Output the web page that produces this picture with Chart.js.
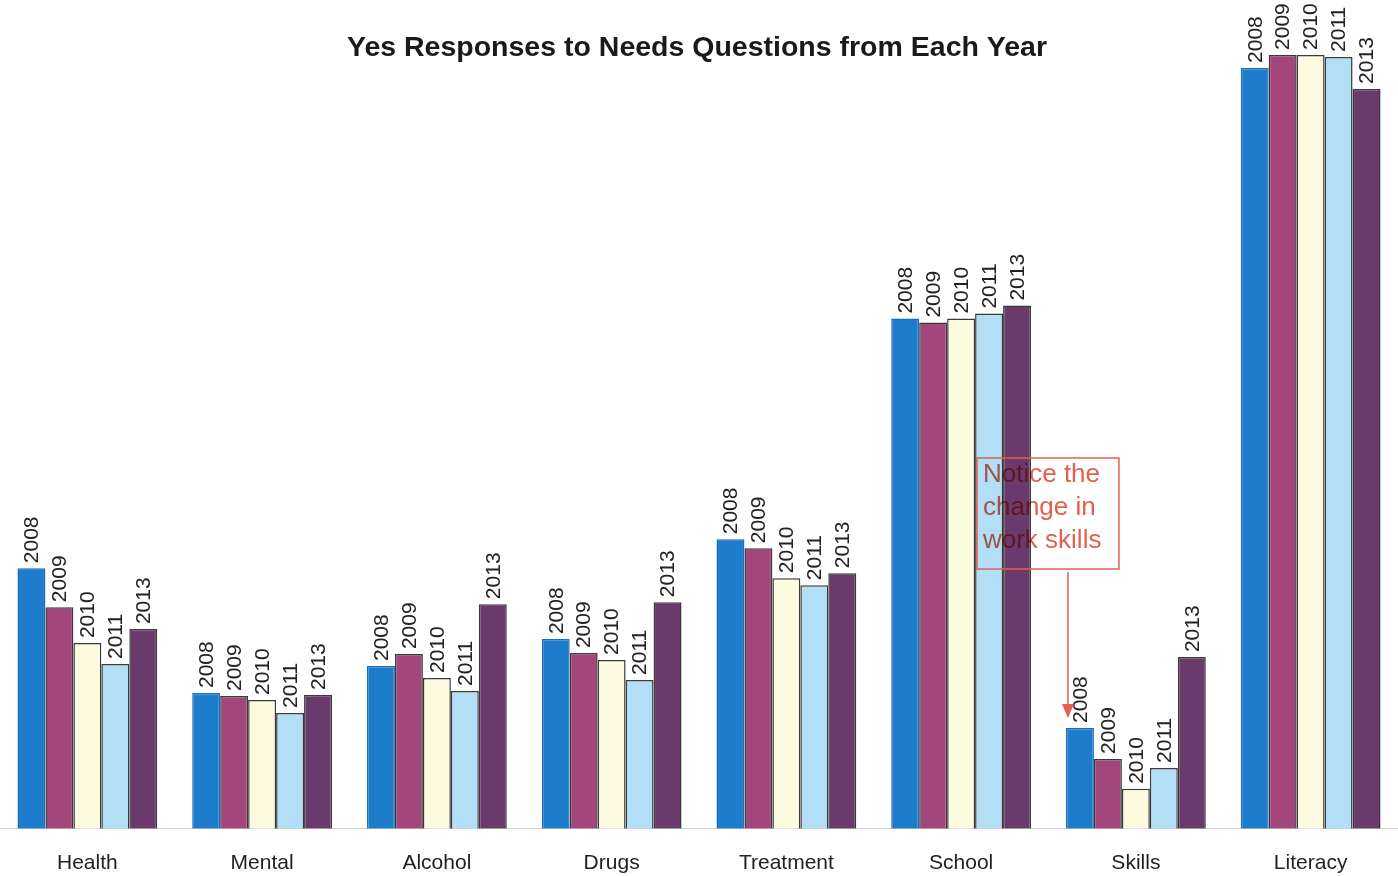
<!DOCTYPE html>
<html>
<head>
<meta charset="utf-8">
<script src="https://cdn.jsdelivr.net/npm/chart.js@4.4.0/dist/chart.umd.min.js"></script>
<style>
  html, body { margin: 0; padding: 0; background: #fff; }
  #wrap { width: 1398px; height: 876px; position: relative; }
</style>
</head>
<body>
<div id="wrap"><canvas id="myChart"></canvas></div>
<script>
const categories = ['Health', 'Mental', 'Alcohol', 'Drugs', 'Treatment', 'School', 'Skills', 'Literacy'];
const years = ['2008', '2009', '2010', '2011', '2013'];
const v2008 = [261, 136, 163, 190, 290, 511, 101, 762];
const v2009 = [222, 133, 175, 176, 281, 507, 70, 775];
const v2010 = [186, 129, 151, 169, 251, 511, 40, 775];
const v2011 = [165, 116, 138, 149, 244, 516, 61, 773];
const v2013 = [200, 134, 225, 227, 256, 524, 172, 741];
const yMax = 800;

const fills = ['#1d7ccc', '#a3467b', '#fcfbe0', '#b2def6', '#6a3a6d'];
const edges = ['#1a6fb8', '#3a3a3a', '#3a3a3a', '#3a3a3a', '#3a3a3a'];

const titleText = 'Yes Responses to Needs Questions from Each Year';
const noteLines = ['Notice the', 'change in', 'work skills'];

// draws the title, the year labels over every bar and the note with its arrow
const extras = {
    id: 'extras',
    afterDatasetsDraw(chart) {
        const c = chart.ctx;
        c.save();
        c.font = '21px "Liberation Sans", Arial, sans-serif';
        c.fillStyle = '#222';
        c.textAlign = 'left';
        c.textBaseline = 'middle';
        chart.data.datasets.forEach((ds, i) => {
            chart.getDatasetMeta(i).data.forEach(bar => {
                c.save();
                c.translate(bar.x + 1, bar.y - 5);
                c.rotate(-Math.PI / 2);
                c.fillText(ds.label, 0, 0);
                c.restore();
            });
        });
        c.restore();

        // title
        c.save();
        c.font = 'bold 28.5px "Liberation Sans", Arial, sans-serif';
        c.fillStyle = '#1a1a1a';
        c.textAlign = 'center';
        c.textBaseline = 'middle';
        c.fillText(titleText, 697, 48);
        c.restore();

        // note box + arrow pointing at Skills 2008
        const target = chart.getDatasetMeta(0).data[6];
        const ax = target.x - 12;
        const boxL = ax - 91, boxT = 458, boxW = 142, boxH = 111;
        c.save();
        c.strokeStyle = '#e2604f';
        c.lineWidth = 1.5;
        c.strokeRect(boxL, boxT, boxW, boxH);
        c.beginPath();
        c.moveTo(ax, boxT + boxH + 3);
        c.lineTo(ax, target.y - 16);
        c.stroke();
        c.fillStyle = '#e2604f';
        c.beginPath();
        c.moveTo(ax, target.y - 10);
        c.lineTo(ax - 6, target.y - 24);
        c.lineTo(ax + 6, target.y - 24);
        c.closePath();
        c.fill();
        c.globalCompositeOperation = 'multiply';
        c.font = '26px "Liberation Sans", Arial, sans-serif';
        c.textAlign = 'left';
        c.textBaseline = 'middle';
        noteLines.forEach((t, k) => c.fillText(t, boxL + 6, boxT + 17 + k * 33));
        c.restore();
    }
};

const series = [v2008, v2009, v2010, v2011, v2013];

new Chart(document.getElementById('myChart').getContext('2d'), {
    type: 'bar',
    plugins: [extras],
    data: {
        labels: categories,
        datasets: series.map((vals, i) => ({
            label: years[i],
            data: vals,
            backgroundColor: fills[i],
            borderColor: edges[i],
            borderWidth: 1.5,
            categoryPercentage: 0.8,
            barPercentage: 1.0
        }))
    },
    options: {
        responsive: true,
        maintainAspectRatio: false,
        animation: false,
        layout: { padding: { top: 30, bottom: -14, left: -5, right: -3 } },
        plugins: {
            legend: { display: false },
            title: { display: false },
            tooltip: { enabled: false }
        },
        scales: {
            x: {
                grid: { display: false },
                border: { display: true, color: '#d0d0d0', width: 1 },
                ticks: {
                    color: '#222',
                    padding: 14,
                    font: { size: 21, family: '"Liberation Sans", Arial, sans-serif' }
                }
            },
            y: {
                display: false,
                min: 0,
                max: yMax
            }
        }
    }
});
</script>
</body>
</html>
